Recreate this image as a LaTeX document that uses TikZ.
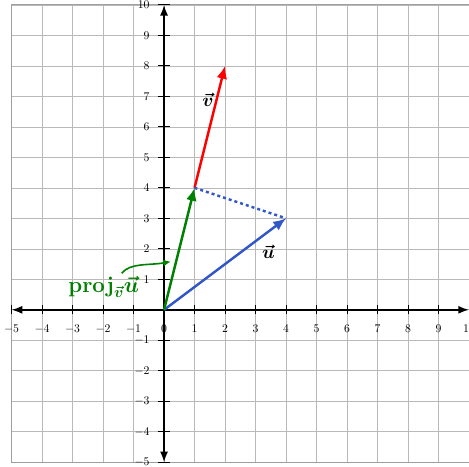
\documentclass[tikz,border=0pt]{standalone}
\usepackage{amsmath,bm}
\usetikzlibrary{arrows.meta}
\definecolor{vblue}{RGB}{50,88,200}
\definecolor{vgreen}{RGB}{0,128,0}
\definecolor{vred}{RGB}{255,0,0}
\begin{document}
\begin{tikzpicture}[x=1cm,y=1cm,
  gridline/.style={draw=gray!55,line width=0.6pt},
  axisline/.style={line width=1.5pt,{Latex[length=10pt,width=7.5pt]}-{Latex[length=10pt,width=7.5pt]}},
  tickmark/.style={line width=0.9pt},
  ticklbl/.style={font=\fontsize{10.95}{13}\selectfont,inner sep=0pt},
  vecline/.style={line width=2.3pt,-{Latex[length=12pt,width=10pt]}},
  veclbl/.style={font=\LARGE,inner sep=1pt}
]
\useasboundingbox (-5.38,-5.15) rectangle (10.0,10.16);
% grid
\draw[gridline] (-5,-5) grid (10,10);
\draw[draw=gray!75,line width=0.8pt] (-5,-5) rectangle (10,10);
% axes
\coordinate (xl) at (-5,0); \coordinate (xr) at (10,0);
\coordinate (yb) at (0,-5); \coordinate (yt) at (0,10);
\draw[axisline] (xl) -- (xr);
\draw[axisline] (yb) -- (yt);
% ticks and labels
\foreach \i in {-5,...,10}{
  \draw[tickmark] (\i,-0.15) -- (\i,0.15);
  \node[ticklbl] (xt\i) at (\i,-0.62) {$\i$};
}
\foreach \j in {-5,...,-1,1,2,...,10}{
  \draw[tickmark] (-0.2,\j) -- (0.2,\j);
  \node[ticklbl,anchor=east] (yt\j) at (-0.47,\j) {$\j$};
}
% points
\coordinate (O) at (0,0);
\coordinate (U) at (4,3);
\coordinate (P) at (1,4);
\coordinate (V) at (2,8);
% vectors
\draw[vecline,vred] (P) -- (V);
\draw[line width=2.3pt,vblue,dash pattern=on 2.8pt off 2.8pt] (P) -- (U);
\draw[vecline,vblue] (O) -- (U);
\draw[vecline,vgreen] (O) -- (P);
% labels
\node[veclbl] (lv) at (1.44,6.9) {$\bm{\vec v}$};
\node[veclbl] (lu) at (3.42,1.9) {$\bm{\vec u}$};
\node[vgreen,inner sep=1pt] (lp) at (-1.98,0.74) {\huge$\mathbf{proj}_{\bm{\vec v}}\bm{\vec u}$};
\coordinate (ps) at (-1.39,1.2);
\coordinate (pe) at (0.22,1.58);
\draw[vgreen,line width=1.5pt,-{Latex[length=7pt,width=6.5pt]}] (ps) .. controls (-1.1,1.55) and (-0.5,1.45) .. (pe);
\end{tikzpicture}
\end{document}
